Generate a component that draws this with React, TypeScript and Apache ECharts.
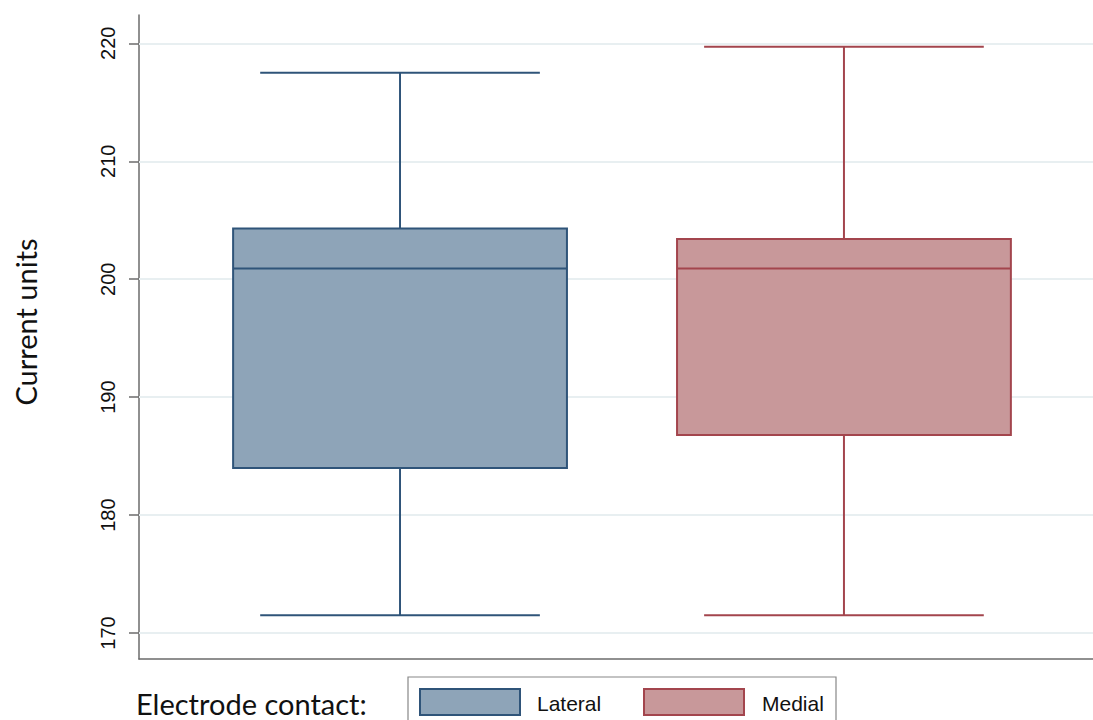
import React, { useEffect, useRef } from "react";
import * as echarts from "echarts";

// Box plot summary per electrode contact
const categories = ["Lateral", "Medial"];
const minValues = [171.5, 171.5];
const q1Values = [184.0, 186.8];
const medianValues = [200.9, 200.9];
const q3Values = [204.3, 203.4];
const maxValues = [217.5, 219.7];
const yTicks = [170, 180, 190, 200, 210, 220];

const fillColors = ["#8ea4b8", "#c8989a"];
const strokeColors = ["#2f5479", "#a3454d"];

export default function App() {
  const ref = useRef<HTMLDivElement>(null);

  useEffect(() => {
    if (!ref.current) return;
    const chart = echarts.init(ref.current, undefined, { renderer: "svg" });

    const boxData = categories.map((_, i) => [
      i,
      minValues[i],
      q1Values[i],
      medianValues[i],
      q3Values[i],
      maxValues[i],
    ]);

    const renderBox = (params: any, api: any) => {
      const i = api.value(0);
      const lo = api.coord([i, api.value(1)]);
      const q1 = api.coord([i, api.value(2)]);
      const med = api.coord([i, api.value(3)]);
      const q3 = api.coord([i, api.value(4)]);
      const hi = api.coord([i, api.value(5)]);
      const halfBox = api.size([0.752, 0])[0] / 2;
      const halfCap = api.size([0.63, 0])[0] / 2;
      const stroke = strokeColors[params.dataIndex];
      const fill = fillColors[params.dataIndex];
      const lineStyle = { stroke, lineWidth: 2, fill: "none" };
      const cx = q1[0];
      return {
        type: "group",
        children: [
          { type: "line", shape: { x1: cx, y1: q3[1], x2: cx, y2: hi[1] }, style: lineStyle },
          { type: "line", shape: { x1: cx, y1: q1[1], x2: cx, y2: lo[1] }, style: lineStyle },
          { type: "line", shape: { x1: cx - halfCap, y1: hi[1], x2: cx + halfCap, y2: hi[1] }, style: lineStyle },
          { type: "line", shape: { x1: cx - halfCap, y1: lo[1], x2: cx + halfCap, y2: lo[1] }, style: lineStyle },
          {
            type: "rect",
            shape: { x: cx - halfBox, y: q3[1], width: halfBox * 2, height: q1[1] - q3[1] },
            style: { fill, stroke, lineWidth: 2 },
          },
          { type: "line", shape: { x1: cx - halfBox, y1: med[1], x2: cx + halfBox, y2: med[1] }, style: lineStyle },
        ],
      };
    };

    const legendFont = "21px 'Liberation Sans', Arial, sans-serif";
    const titleFont = "29px Lato, 'Open Sans', sans-serif";

    chart.setOption({
      animation: false,
      backgroundColor: "#ffffff",
      grid: { left: 139, right: 0, top: 15, bottom: 61 },
      xAxis: {
        type: "value",
        min: -0.588,
        max: 1.561,
        axisLine: { show: true, onZero: false, lineStyle: { color: "#6b6b6b", width: 1.5 } },
        axisTick: { show: false },
        axisLabel: { show: false },
        splitLine: { show: false },
      },
      yAxis: {
        type: "value",
        min: 167.8,
        max: 222.4,
        axisLine: { show: true, onZero: false, lineStyle: { color: "#6b6b6b", width: 1.5 } },
        axisTick: { show: true, length: 10, customValues: yTicks, lineStyle: { color: "#6b6b6b", width: 1.5 } },
        axisLabel: {
          customValues: yTicks,
          rotate: 90,
          margin: 21,
          fontFamily: "'Liberation Sans', Arial, sans-serif",
          fontSize: 20,
          color: "#111",
        },
        splitLine: { show: false },
      },
      series: [
        {
          type: "line",
          data: [],
          z: 1,
          markLine: {
            z: 1,
            silent: true,
            symbol: "none",
            label: { show: false },
            lineStyle: { color: "#e8eff1", type: "solid", width: 2 },
            data: yTicks.map((v) => ({ yAxis: v })),
          },
        },
        {
          type: "custom",
          z: 10,
          renderItem: renderBox,
          encode: { x: 0, y: [1, 2, 3, 4, 5] },
          data: boxData,
        },
      ],
      graphic: [
        {
          type: "text",
          x: 25,
          y: 322,
          rotation: Math.PI / 2,
          style: {
            text: "Current units",
            font: titleFont,
            fill: "#111",
            textAlign: "center",
            textVerticalAlign: "middle",
          },
        },
        {
          type: "text",
          x: 136,
          y: 703,
          style: {
            text: "Electrode contact:",
            font: titleFont,
            fill: "#111",
            textVerticalAlign: "middle",
          },
        },
        {
          type: "rect",
          shape: { x: 408, y: 677, width: 428, height: 60 },
          style: { fill: "#fff", stroke: "#888", lineWidth: 1.2 },
        },
        {
          type: "rect",
          shape: { x: 420, y: 689, width: 100, height: 26 },
          style: { fill: fillColors[0], stroke: strokeColors[0], lineWidth: 2 },
        },
        {
          type: "text",
          x: 537,
          y: 703,
          style: { text: categories[0], font: legendFont, fill: "#111", textVerticalAlign: "middle" },
        },
        {
          type: "rect",
          shape: { x: 644, y: 689, width: 100, height: 26 },
          style: { fill: fillColors[1], stroke: strokeColors[1], lineWidth: 2 },
        },
        {
          type: "text",
          x: 762,
          y: 703,
          style: { text: categories[1], font: legendFont, fill: "#111", textVerticalAlign: "middle" },
        },
      ],
    });

    return () => chart.dispose();
  }, []);

  return (
    <div
      ref={ref}
      style={{ position: "fixed", left: 0, top: 0, width: 1093, height: 720, background: "#fff" }}
    />
  );
}
